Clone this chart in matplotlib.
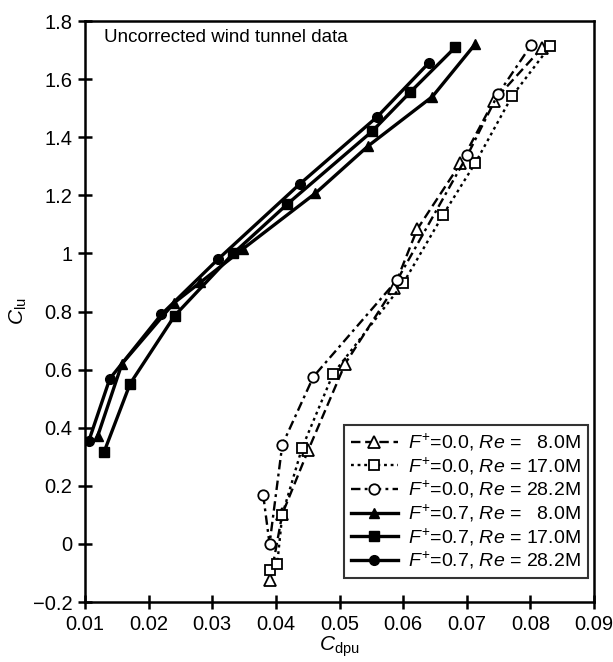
import matplotlib
matplotlib.use("Agg")
import matplotlib.pyplot as plt
from matplotlib.ticker import FuncFormatter

plt.rcParams['font.family'] = ['Liberation Sans', 'DejaVu Sans']
plt.rcParams['mathtext.fontset'] = 'custom'
plt.rcParams['mathtext.rm'] = 'Liberation Sans'
plt.rcParams['mathtext.it'] = 'Liberation Sans:italic'
plt.rcParams['mathtext.bf'] = 'Liberation Sans:bold'

# F+ = 0.0 series (open markers)
cd_f0_re8 = [0.0391, 0.0410, 0.0451, 0.0509, 0.0585, 0.0622, 0.0690, 0.0742, 0.0818]
cl_f0_re8 = [-0.124, 0.103, 0.324, 0.621, 0.880, 1.083, 1.310, 1.524, 1.707]

cd_f0_re17 = [0.0390, 0.0402, 0.0410, 0.0441, 0.0490, 0.0600, 0.0663, 0.0713, 0.0771, 0.0831]
cl_f0_re17 = [-0.090, -0.070, 0.100, 0.330, 0.586, 0.897, 1.134, 1.310, 1.541, 1.714]

cd_f0_re28 = [0.0380, 0.0390, 0.0410, 0.0459, 0.0591, 0.0701, 0.0749, 0.0801]
cl_f0_re28 = [0.169, 0.000, 0.341, 0.576, 0.910, 1.338, 1.548, 1.717]

# F+ = 0.7 series (filled markers)
cd_f7_re8 = [0.0120, 0.0158, 0.0240, 0.0281, 0.0349, 0.0462, 0.0545, 0.0646, 0.0713]
cl_f7_re8 = [0.372, 0.620, 0.830, 0.900, 1.017, 1.207, 1.370, 1.540, 1.720]

cd_f7_re17 = [0.0130, 0.0171, 0.0241, 0.0333, 0.0418, 0.0551, 0.0611, 0.0682]
cl_f7_re17 = [0.317, 0.552, 0.786, 1.000, 1.170, 1.420, 1.555, 1.710]

cd_f7_re28 = [0.0106, 0.0139, 0.0220, 0.0309, 0.0438, 0.0559, 0.0640]
cl_f7_re28 = [0.355, 0.569, 0.790, 0.980, 1.240, 1.470, 1.655]

labels = [
    r'$F^{+}$=0.0, $Re$ = ' + '\u2007' + '8.0M',
    r'$F^{+}$=0.0, $Re$ = 17.0M',
    r'$F^{+}$=0.0, $Re$ = 28.2M',
    r'$F^{+}$=0.7, $Re$ = ' + '\u2007' + '8.0M',
    r'$F^{+}$=0.7, $Re$ = 17.0M',
    r'$F^{+}$=0.7, $Re$ = 28.2M',
]

xticks = [0.01, 0.02, 0.03, 0.04, 0.05, 0.06, 0.07, 0.08, 0.09]
yticks = [-0.2, 0, 0.2, 0.4, 0.6, 0.8, 1.0, 1.2, 1.4, 1.6, 1.8]

fig = plt.figure(figsize=(6.13, 6.62), dpi=100)
ax = fig.add_axes([0.1387, 0.0906, 0.8304, 0.8776])

ax.plot(cd_f0_re8, cl_f0_re8, color='black', lw=1.7, ls=(0, (4, 2)),
        marker='^', ms=8, mfc='white', mec='black', mew=1.3, label=labels[0])
ax.plot(cd_f0_re17, cl_f0_re17, color='black', lw=1.7, ls=(0, (1.2, 1.6)),
        marker='s', ms=7.5, mfc='white', mec='black', mew=1.3, label=labels[1])
ax.plot(cd_f0_re28, cl_f0_re28, color='black', lw=1.7, ls=(0, (4, 1.8, 1.2, 1.8)),
        marker='o', ms=7.5, mfc='white', mec='black', mew=1.3, label=labels[2])
ax.plot(cd_f7_re8, cl_f7_re8, color='black', lw=2.4, ls='-',
        marker='^', ms=7.5, mfc='black', mec='black', label=labels[3])
ax.plot(cd_f7_re17, cl_f7_re17, color='black', lw=2.4, ls='-',
        marker='s', ms=7, mfc='black', mec='black', label=labels[4])
ax.plot(cd_f7_re28, cl_f7_re28, color='black', lw=2.4, ls='-',
        marker='o', ms=7, mfc='black', mec='black', label=labels[5])

ax.set_xlim(0.01, 0.09)
ax.set_ylim(-0.2, 1.8)
ax.set_xticks(xticks)
ax.set_yticks(yticks)
ax.xaxis.set_major_formatter(FuncFormatter(lambda v, p: '%g' % round(v, 3)))
ax.yaxis.set_major_formatter(FuncFormatter(lambda v, p: ('%g' % round(v, 3)).replace('-', '\u2212')))
ax.tick_params(direction='inout', length=10, width=1.8, labelsize=14.5,
               top=False, right=False, pad=4)
for s in ax.spines.values():
    s.set_linewidth(1.8)

ax.set_xlabel(r'$C_{\mathrm{dpu}}$', fontsize=15, labelpad=1)
ax.set_ylabel(r'$C_{\mathrm{lu}}$', fontsize=15, labelpad=3)

ax.text(0.037, 0.972, 'Uncorrected wind tunnel data', transform=ax.transAxes,
        fontsize=13.5, ha='left', va='center')

leg = ax.legend(loc='lower right', bbox_to_anchor=(0.988, 0.041), borderaxespad=0,
                fontsize=14, frameon=True, fancybox=False, edgecolor='black',
                handlelength=2.4, handletextpad=0.55, labelspacing=0.12,
                borderpad=0.35)
leg.get_frame().set_linewidth(1.5)

fig.savefig('out.png', dpi=100)
